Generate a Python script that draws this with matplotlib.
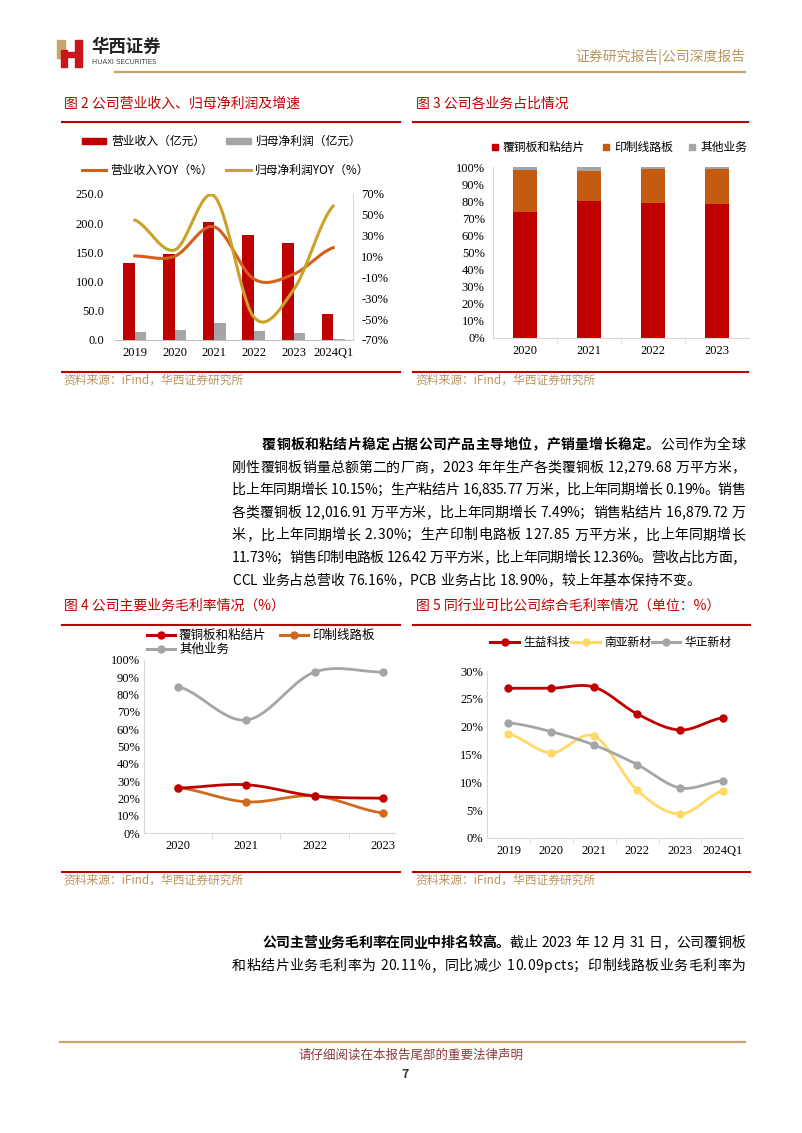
import numpy as np
import matplotlib
matplotlib.use('Agg')
import matplotlib.pyplot as plt
from matplotlib.lines import Line2D
from matplotlib.patches import Rectangle

CJK = ['Noto Sans CJK SC', 'DejaVu Sans']
SERIF = ['Liberation Serif', 'DejaVu Serif']
plt.rcParams['font.family'] = CJK

W, H = 802, 1133

# ---- data: fig 2, revenue / net profit and growth ----
years2 = ['2019', '2020', '2021', '2022', '2023', '2024Q1']
revenue = [132.4, 146.9, 202.7, 180.1, 165.9, 45.2]
net_profit = [14.5, 16.8, 28.3, 15.3, 11.6, 2.5]
revenue_yoy = [10.6, 10.2, 38.5, -11.5, -7.0, 18.5]
profit_yoy = [45.0, 16.3, 68.0, -48.0, -22.0, 58.5]

# ---- data: fig 3, business share ----
years3 = ['2020', '2021', '2022', '2023']
ccl_share = [73.8, 80.0, 79.2, 78.6]
pcb_share = [24.6, 17.5, 19.4, 20.0]
other_share = [1.6, 2.5, 1.4, 1.4]

# ---- data: fig 4, gross margin by business ----
years4 = ['2020', '2021', '2022', '2023']
ccl_margin = [26.0, 27.9, 21.4, 20.1]
pcb_margin = [26.2, 18.0, 21.4, 11.6]
other_margin = [84.6, 65.3, 93.0, 93.0]

# ---- data: fig 5, peers gross margin ----
years5 = ['2019', '2020', '2021', '2022', '2023', '2024Q1']
shengyi = [26.9, 26.9, 27.1, 22.3, 19.4, 21.6]
nanya = [18.7, 15.3, 18.3, 8.6, 4.3, 8.5]
huazheng = [20.7, 19.1, 16.7, 13.2, 9.0, 10.3]

RED = '#C00000'
ORANGE = '#C55A11'
GRAY = '#A5A5A5'
GOLD = '#C9A227'
YELLOW = '#FFD966'
TAN = '#B8955F'
SRC = '资料来源：iFind，华西证券研究所'
TICK_FS = 9

fig = plt.figure(figsize=(W / 100, H / 100), dpi=100)
renderer = fig.canvas.get_renderer()


def fx(x):
    return x / W


def fy(y):
    return 1 - y / H


def axes_px(x0, y0, x1, y1):
    return fig.add_axes([fx(x0), fy(y1), (x1 - x0) / W, (y1 - y0) / H])


def hline(x0, x1, y, color, lw):
    fig.add_artist(Line2D([fx(x0), fx(x1)], [fy(y), fy(y)], color=color, lw=lw,
                          transform=fig.transFigure))


def text(x, y, s, **kw):
    kw.setdefault('va', 'center')
    kw.setdefault('family', CJK)
    return fig.text(fx(x), fy(y), s, **kw)


def smooth(vals, n=30):
    # Excel-like smoothed line through the data points
    y = np.asarray(vals, float)
    x = np.arange(len(y), dtype=float)
    p = np.concatenate([[y[0]], y, [y[-1]]])
    xs, ys = [], []
    t = np.linspace(0, 1, n, endpoint=False)
    for i in range(len(y) - 1):
        p0, p1, p2, p3 = p[i], p[i + 1], p[i + 2], p[i + 3]
        ys.append(0.5 * (2 * p1 + (-p0 + p2) * t + (2 * p0 - 5 * p1 + 4 * p2 - p3) * t ** 2
                         + (-p0 + 3 * p1 - 3 * p2 + p3) * t ** 3))
        xs.append(x[i] + t)
    xs.append([x[-1]])
    ys.append([y[-1]])
    return np.concatenate(xs), np.concatenate(ys)


def legend_line(x0, x1, y, color, label, marker=False, fs=8.5):
    fig.add_artist(Line2D([fx(x0), fx(x1)], [fy(y), fy(y)], color=color, lw=2.2,
                          transform=fig.transFigure))
    if marker:
        fig.add_artist(Line2D([fx((x0 + x1) / 2)], [fy(y)], color=color, marker='o', ms=5,
                              transform=fig.transFigure))
    text(x1 + 4, y, label, fontsize=fs)


def legend_box(x0, x1, y, h, color, label, fs=8.5):
    fig.add_artist(Rectangle((fx(x0), fy(y + h / 2)), (x1 - x0) / W, h / H, color=color,
                             transform=fig.transFigure))
    text(x1 + 5, y, label, fontsize=fs)


def style_cat_axis(ax, labels, minor=True):
    ax.set_xticks(range(len(labels)))
    ax.set_xticklabels(labels, family=SERIF, fontsize=TICK_FS)
    ax.tick_params(axis='x', length=0, pad=5)
    if minor:
        ax.set_xticks(np.arange(len(labels) - 1) + 0.5, minor=True)
        ax.tick_params(axis='x', which='minor', length=4, color='#D9D9D9', direction='out')
    for s in ['top', 'right']:
        ax.spines[s].set_visible(False)
    for s in ['left', 'bottom']:
        ax.spines[s].set_color('#D9D9D9')


def pct_axis(ax, ticks, pad):
    ax.set_yticks(ticks)
    ax.set_yticklabels([f'{t}%' for t in ticks], family=SERIF, fontsize=TICK_FS)
    ax.tick_params(axis='y', length=0, pad=pad)


# ---- page header ----
fig.add_artist(Rectangle((fx(57), fy(58)), 8 / W, 18 / H, color='#C9A46A', transform=fig.transFigure))
fig.add_artist(Rectangle((fx(61), fy(67)), 6 / W, 17 / H, color='#C8161D', transform=fig.transFigure))
fig.add_artist(Rectangle((fx(75), fy(67)), 7 / W, 27 / H, color='#C8161D', transform=fig.transFigure))
fig.add_artist(Rectangle((fx(64), fy(57)), 12 / W, 5 / H, color='#C8161D', transform=fig.transFigure))
text(91, 47, '华西证券', fontsize=12.5, weight='bold', color='#222222')
text(92, 62, 'HUAXI SECURITIES', fontsize=5, color='#444444', family=['DejaVu Sans'])
text(745, 57, '证券研究报告|公司深度报告', fontsize=10, color=TAN, ha='right')
hline(115, 745, 72, '#C8A46E', 1.6)

# ---- titles and rules ----
text(64, 104, '图 2 公司营业收入、归母净利润及增速', fontsize=10, color=RED)
text(416, 104, '图 3 公司各业务占比情况', fontsize=10, color=RED)
hline(62, 400, 122, RED, 1.5)
hline(413, 748, 122, RED, 1.5)
hline(62, 400, 372, RED, 1.5)
hline(413, 748, 372, RED, 1.5)
text(63, 380, SRC, fontsize=8.5, color=TAN)
text(415, 380, SRC, fontsize=8.5, color=TAN)

text(64, 606, '图 4 公司主要业务毛利率情况（%）', fontsize=10, color=RED)
text(416, 606, '图 5 同行业可比公司综合毛利率情况（单位：%）', fontsize=10, color=RED)
hline(62, 400, 625, RED, 1.5)
hline(413, 750, 625, RED, 1.5)
hline(62, 400, 872, RED, 1.5)
hline(413, 750, 872, RED, 1.5)
text(63, 880, SRC, fontsize=8.5, color=TAN)
text(415, 880, SRC, fontsize=8.5, color=TAN)

# ---- fig 2 ----
ax = axes_px(115, 194, 353, 340)
x = np.arange(len(years2))
bw = 0.29
ax.bar(x - bw / 2, revenue, bw, color=RED)
ax.bar(x + bw / 2, net_profit, bw, color=GRAY)
ax.set_xlim(-0.5, len(years2) - 0.5)
ax.set_ylim(0, 250)
ax.set_yticks(np.arange(0, 251, 50))
ax.set_yticklabels([f'{v:.1f}' for v in np.arange(0, 251, 50)], family=SERIF, fontsize=TICK_FS)
ax.tick_params(axis='y', length=0, pad=8)
style_cat_axis(ax, years2, minor=False)
ax.spines['left'].set_visible(False)
ax.spines['bottom'].set_color('#BFBFBF')
ax2 = ax.twinx()
ax2.set_ylim(-70, 70)
pct_axis(ax2, list(range(-70, 71, 20)), 6)
for s in ['top', 'left', 'bottom']:
    ax2.spines[s].set_visible(False)
ax2.spines['right'].set_color('#D9D9D9')
sx, sy = smooth(revenue_yoy)
ax2.plot(sx, sy, color='#D2601A', lw=2.2)
sx, sy = smooth(profit_yoy)
ax2.plot(sx, sy, color=GOLD, lw=2.2)

legend_box(82, 106, 141, 6, RED, '营业收入（亿元）')
legend_box(226, 251, 141, 6, GRAY, '归母净利润（亿元）')
legend_line(82, 106, 170, '#D2601A', '营业收入YOY（%）')
legend_line(226, 251, 170, GOLD, '归母净利润YOY（%）')

# ---- fig 3 ----
ax = axes_px(493, 167, 749, 338)
x = np.arange(len(years3))
bw = 0.39
ax.bar(x, ccl_share, bw, color=RED)
ax.bar(x, pcb_share, bw, bottom=ccl_share, color=ORANGE)
ax.bar(x, other_share, bw, bottom=np.add(ccl_share, pcb_share), color=GRAY)
ax.set_xlim(-0.5, len(years3) - 0.5)
ax.set_ylim(0, 100)
pct_axis(ax, list(range(0, 101, 10)), 6)
style_cat_axis(ax, years3)
legend_box(492, 498, 147, 6, RED, '覆铜板和粘结片')
legend_box(603, 609, 147, 6, ORANGE, '印制线路板')
legend_box(689, 695, 147, 6, GRAY, '其他业务')

# ---- fig 4 ----
ax = axes_px(144, 660, 395, 833)
for vals, c in [(other_margin, GRAY), (pcb_margin, '#D0691E'), (ccl_margin, RED)]:
    sx, sy = smooth(vals)
    ax.plot(sx, sy, color=c, lw=2)
    ax.plot(range(len(vals)), vals, 'o', color=c, ms=5)
ax.set_xlim(-0.5, 3.18)
ax.set_ylim(0, 100)
pct_axis(ax, list(range(0, 101, 10)), 3)
style_cat_axis(ax, years4)
legend_line(147, 175, 635, RED, '覆铜板和粘结片', marker=True, fs=9)
legend_line(280, 308, 635, '#D0691E', '印制线路板', marker=True, fs=9)
legend_line(147, 175, 649, GRAY, '其他业务', marker=True, fs=9)

# ---- fig 5 ----
ax = axes_px(487, 671, 743, 838)
for vals, c in [(nanya, YELLOW), (huazheng, GRAY), (shengyi, RED)]:
    sx, sy = smooth(vals)
    ax.plot(sx, sy, color=c, lw=2)
    ax.plot(range(len(vals)), vals, 'o', color=c, ms=5)
ax.set_xlim(-0.5, 5.47)
ax.set_ylim(0, 30)
pct_axis(ax, list(range(0, 31, 5)), 3)
style_cat_axis(ax, years5)
legend_line(490, 519, 642, RED, '生益科技', marker=True)
legend_line(571, 600, 642, YELLOW, '南亚新材', marker=True)
legend_line(652, 680, 642, GRAY, '华正新材', marker=True)

# ---- body text (justified lines) ----
_wcache = {}


def char_w(ch, weight):
    if ch == ' ':
        return 4.0
    key = (ch, weight)
    if key not in _wcache:
        t = fig.text(0, 0, ch, fontsize=10, weight=weight, family=CJK)
        _wcache[key] = t.get_window_extent(renderer).width
        t.remove()
    return _wcache[key]


def body_line(x0, x1, y, segments, justify=True):
    chars = [(ch, w) for s, w in segments for ch in s]
    widths = [char_w(ch, w) for ch, w in chars]
    gap = (x1 - x0 - sum(widths)) / (len(chars) - 1) if justify else 0.0
    xpos = x0
    for (ch, w), cw in zip(chars, widths):
        if ch != ' ':
            text(xpos, y, ch, fontsize=10, weight=w)
        xpos += cw + gap


para1 = [
    '刚性覆铜板销量总额第二的厂商，2023 年年生产各类覆铜板 12,279.68 万平方米，',
    '比上年同期增长 10.15%；生产粘结片 16,835.77 万米，比上年同期增长 0.19%。销售',
    '各类覆铜板 12,016.91 万平方米，比上年同期增长 7.49%；销售粘结片 16,879.72 万',
    '米，比上年同期增长 2.30%；生产印制电路板 127.85 万平方米，比上年同期增长',
    '11.73%；销售印制电路板 126.42 万平方米，比上年同期增长 12.36%。营收占比方面，',
    'CCL 业务占总营收 76.16%，PCB 业务占比 18.90%，较上年基本保持不变。',
]
body_line(262, 745, 445, [('覆铜板和粘结片稳定占据公司产品主导地位，产销量增长稳定。', 'bold'),
                          ('公司作为全球', 'normal')])
for i, s in enumerate(para1):
    body_line(232, 745, 445 + 22.6 * (i + 1), [(s, 'normal')], justify=i < len(para1) - 1)

body_line(262, 745, 943, [('公司主营业务毛利率在同业中排名较高。', 'bold'),
                          ('截止 2023 年 12 月 31 日，公司覆铜板', 'normal')])
body_line(232, 745, 966, [('和粘结片业务毛利率为 20.11%，同比减少 10.09pcts；印制线路板业务毛利率为', 'normal')])

# ---- footer ----
hline(60, 745, 1042, '#C8A46E', 1.6)
text(411, 1055, '请仔细阅读在本报告尾部的重要法律声明', fontsize=9, color='#8B3A3A', ha='center')
text(405, 1074, '7', fontsize=9, weight='bold', color='#333333', ha='center')

fig.savefig('out.png', dpi=100)
